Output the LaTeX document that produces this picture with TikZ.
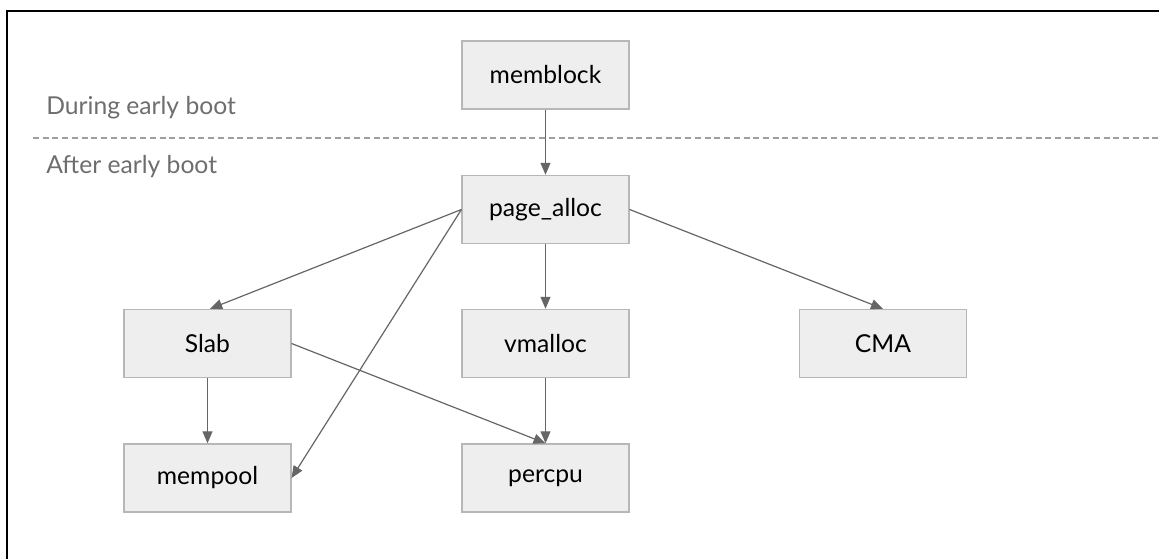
\documentclass[tikz,border=0pt]{standalone}
\usepackage{fontspec}
\setmainfont{Lato}
\usetikzlibrary{arrows.meta}
\definecolor{boxfill}{HTML}{EEEEEE}
\definecolor{boxline}{HTML}{B7B7B7}
\definecolor{arrowgray}{HTML}{666666}
\definecolor{labelgray}{HTML}{6E6E6E}
\definecolor{dashgray}{HTML}{9E9E9E}
\tikzset{
  alloc/.style={draw=boxline, fill=boxfill, line width=1.1pt,
    minimum width=125pt, minimum height=51pt, inner sep=0pt,
    font=\fontsize{18.5pt}{22pt}\selectfont, text=black},
  phase/.style={anchor=west, inner sep=0pt, text=labelgray,
    font=\fontsize{18.5pt}{22pt}\selectfont},
  flow/.style={draw=arrowgray, line width=0.9pt,
    -{Triangle[length=9pt, width=7.5pt]}},
}
\begin{document}
\begin{tikzpicture}[x=0.75pt, y=-0.75pt]
  \useasboundingbox (0,0) rectangle (1159,559);
  \fill[white] (0,0) rectangle (1159,559);

  % frame (top and left edges)
  \draw[black, line width=1.6pt] (7,559) -- (7,11) -- (1159,11);

  % boot phase divider
  \coordinate (divL) at (33,138);
  \coordinate (divR) at (1159,138);
  \draw[dashgray, line width=0.9pt, dash pattern=on 4.5pt off 2.8pt] (divL) -- (divR);
  \node[phase] (during) at (46,108) {During early boot};
  \node[phase] (after) at (46,167) {After early boot};

  % allocators
  \node[alloc] (memblock) at (545.5,75)    {memblock};
  \node[alloc] (pagealloc) at (545.5,209.5) {page\_alloc};
  \node[alloc] (slab)     at (207.5,343.5) {Slab};
  \node[alloc] (vmalloc)  at (545.5,343.5) {vmalloc};
  \node[alloc] (cma)      at (883,343.5)   {CMA};
  \node[alloc] (mempool)  at (207.5,478)   {mempool};
  \node[alloc] (percpu)   at (545.5,478)   {percpu};

  % dependencies
  \draw[flow] (memblock.south) -- (pagealloc.north);
  \draw[flow] (pagealloc.west) -- ([xshift=2pt]slab.north);
  \draw[flow] (pagealloc.west) -- (mempool.east);
  \draw[flow] (pagealloc.south) -- (vmalloc.north);
  \draw[flow] (pagealloc.east) -- (cma.north);
  \draw[flow] (slab.south) -- (mempool.north);
  \draw[flow] (slab.east) -- (percpu.north);
  \draw[flow] (vmalloc.south) -- (percpu.north);
\end{tikzpicture}
\end{document}
